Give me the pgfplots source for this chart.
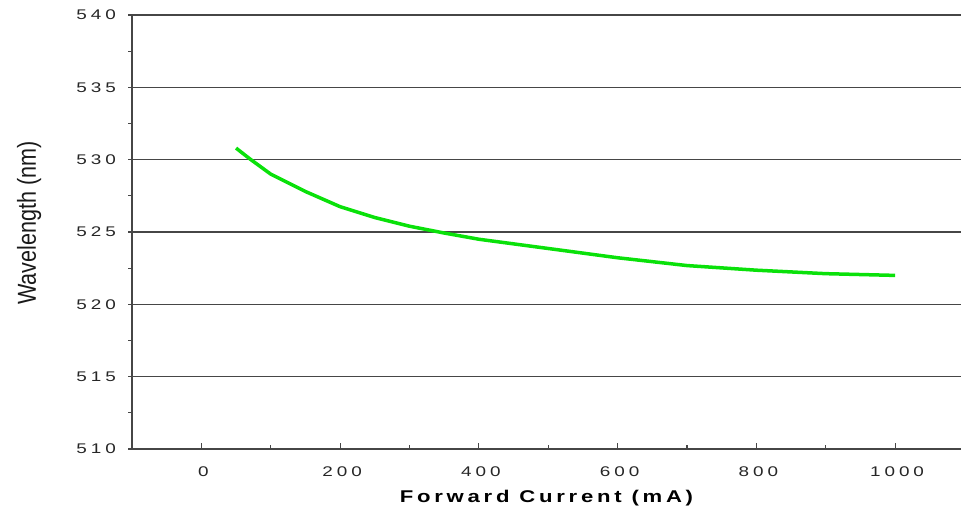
\documentclass[border=0pt]{standalone}
\usepackage{pgfplots}
\pgfplotsset{compat=1.18}
\usepackage{fontspec}
\setmainfont{Liberation Sans}
\newfontfamily\tickfont{Liberation Sans}[FakeStretch=1.35, LetterSpace=28]
\newfontfamily\xlabfont{Liberation Sans}[FakeStretch=1.3, LetterSpace=22]
\newfontfamily\ylabfont{Liberation Sans}[FakeStretch=0.83]
\definecolor{curvegreen}{RGB}{10,225,10}
\definecolor{gridgray}{RGB}{70,70,70}

\begin{document}
\begin{tikzpicture}
\begin{axis}[
  at={(132pt,68pt)}, anchor=south west,
  width=829pt, height=434pt, scale only axis,
  xmin=-100, xmax=1095, ymin=510, ymax=540,
  axis x line=bottom, axis y line=left,
  axis line style={-, gridgray, line width=1.4pt},
  xtick={0,200,...,1000},
  minor xtick={100,300,500,700,900},
  ytick={510,515,...,540},
  minor ytick={512.5,517.5,...,537.5},
  ymajorgrids,
  major grid style={gridgray, line width=1.5pt},
  tick align=outside,
  major tick length=6pt, minor tick length=4pt,
  tick style={gridgray, line width=1.2pt},
  every major x tick/.append style={yshift=6pt},
  every minor x tick/.append style={yshift=4pt},
  every major y tick/.append style={xshift=2pt},
  /pgf/number format/assume math mode=true,
  /pgf/number format/1000 sep={},
  ticklabel style={font=\tickfont\fontsize{14}{14}\selectfont, text=black!85, inner sep=0pt},
  xticklabel style={anchor=north, yshift=-11.5pt, xshift=2pt},
  yticklabel style={anchor=east, xshift=-10pt},
  xlabel={Forward Current (mA)},
  ylabel={Wavelength (nm)},
  x label style={at={(axis description cs:0.5,-0.1129)}, anchor=center,
    font=\xlabfont\bfseries\fontsize{17}{18}\selectfont, text=black},
  y label style={at={(axis description cs:-0.1242,0.5207)}, anchor=center,
    font=\ylabfont\fontsize{26}{26}\selectfont, text=black!90},
  clip=false,
]
\addplot[curvegreen, line width=3.5pt, line join=round] coordinates {
  (50,530.8) (70,530.05) (100,529.0) (150,527.8) (200,526.75) (250,526.0)
  (300,525.4) (350,524.93) (400,524.5) (500,523.86) (600,523.22)
  (700,522.68) (800,522.36) (900,522.12) (1000,522.0)
};
\end{axis}
\pgfresetboundingbox
\path (0,0) rectangle (961pt,517pt);
\end{tikzpicture}
\end{document}
